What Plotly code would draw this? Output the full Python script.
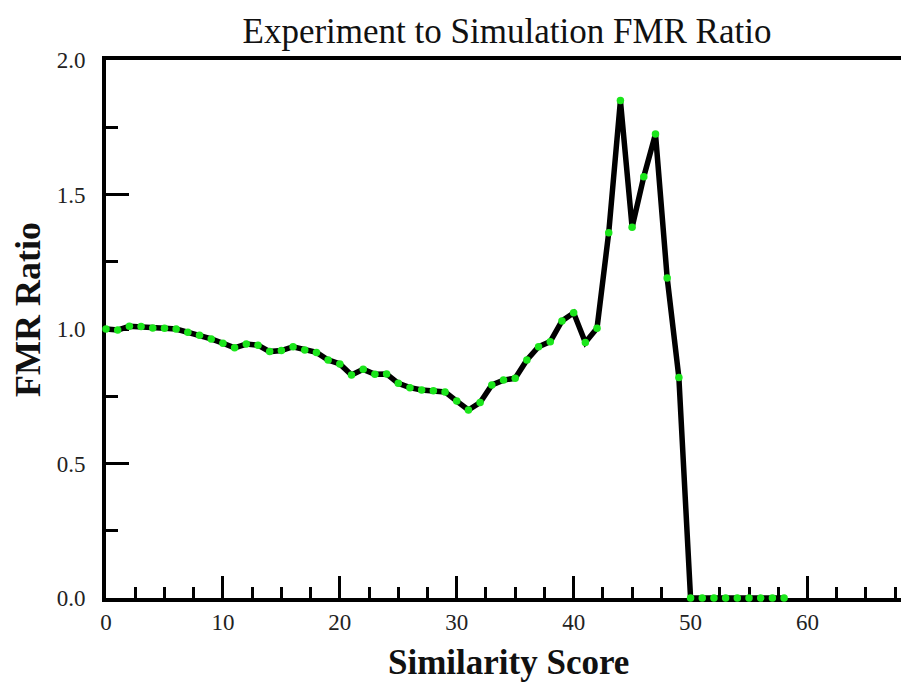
import plotly.graph_objects as go

similarity_score = list(range(0, 59))
fmr_ratio = [
    1.00, 0.996, 1.01, 1.009, 1.004, 1.003, 1.00, 0.988, 0.977, 0.963,
    0.947, 0.93, 0.944, 0.94, 0.916, 0.92, 0.934, 0.922, 0.913, 0.885,
    0.87, 0.829, 0.85, 0.832, 0.833, 0.798, 0.782, 0.773, 0.77, 0.766,
    0.732, 0.699, 0.727, 0.792, 0.81, 0.817, 0.885, 0.934, 0.953, 1.03,
    1.06, 0.95, 1.003, 1.358, 1.849, 1.378, 1.566, 1.725, 1.19, 0.82,
    0.0, 0.0, 0.0, 0.0, 0.0, 0.0, 0.0, 0.0, 0.0,
]
x_ticks = [0, 10, 20, 30, 40, 50, 60]
y_ticks = [0.0, 0.5, 1.0, 1.5, 2.0]

fig = go.Figure()
fig.add_trace(go.Scatter(
    x=similarity_score, y=fmr_ratio, mode="lines+markers",
    line=dict(color="black", width=5.5),
    marker=dict(color="#1be61b", size=7.5),
    cliponaxis=False, showlegend=False,
))

font_family = "Liberation Serif"
fig.update_layout(
    width=901, height=683,
    margin=dict(l=106, r=0, t=60, b=85, pad=0),
    plot_bgcolor="white", paper_bgcolor="white",
    font=dict(family=font_family, color="black"),
    title=dict(text="Experiment to Simulation FMR Ratio", x=507 / 901, xanchor="center",
               y=1 - 31 / 683, yanchor="middle", font=dict(size=35, family=font_family, color="#111")),
    annotations=[
        dict(text="<b>Similarity Score</b>", xref="paper", yref="paper",
             x=(508 - 106) / 795, y=(598 - 662) / 538, xanchor="center", yanchor="middle",
             showarrow=False, font=dict(size=35, family=font_family, color="#111")),
        dict(text="<b>FMR Ratio</b>", xref="paper", yref="paper", textangle=-90,
             x=(28 - 106) / 795, y=(598 - 310) / 538, xanchor="center", yanchor="middle",
             showarrow=False, font=dict(size=36, family=font_family, color="#111")),
    ],
)
fig.update_xaxes(
    range=[0, 68], tickvals=x_ticks, ticks="inside", ticklen=22, tickwidth=3,
    tickcolor="black", showline=True, linewidth=4, linecolor="black", mirror=True,
    showgrid=False, zeroline=False, layer="below traces", automargin=False,
    tickfont=dict(size=23, family=font_family, color="#222"),
    minor=dict(dtick=2.5, tick0=0, ticks="inside", ticklen=11, tickwidth=3, tickcolor="black", showgrid=False),
)
fig.update_yaxes(
    range=[0, 2.0], tickvals=y_ticks, tickformat=".1f", ticks="inside", ticklen=23, tickwidth=3,
    tickcolor="black", showline=True, linewidth=4, linecolor="black", mirror=False,
    showgrid=False, zeroline=False, layer="below traces", ticklabelstandoff=12, automargin=False,
    tickfont=dict(size=23, family=font_family, color="#222"),
    minor=dict(dtick=0.25, tick0=0, ticks="inside", ticklen=12, tickwidth=3, tickcolor="black", showgrid=False),
)

fig.write_html("out.html", config={"displayModeBar": False},
               post_script="document.body.style.margin='0';document.body.style.overflow='hidden';")
